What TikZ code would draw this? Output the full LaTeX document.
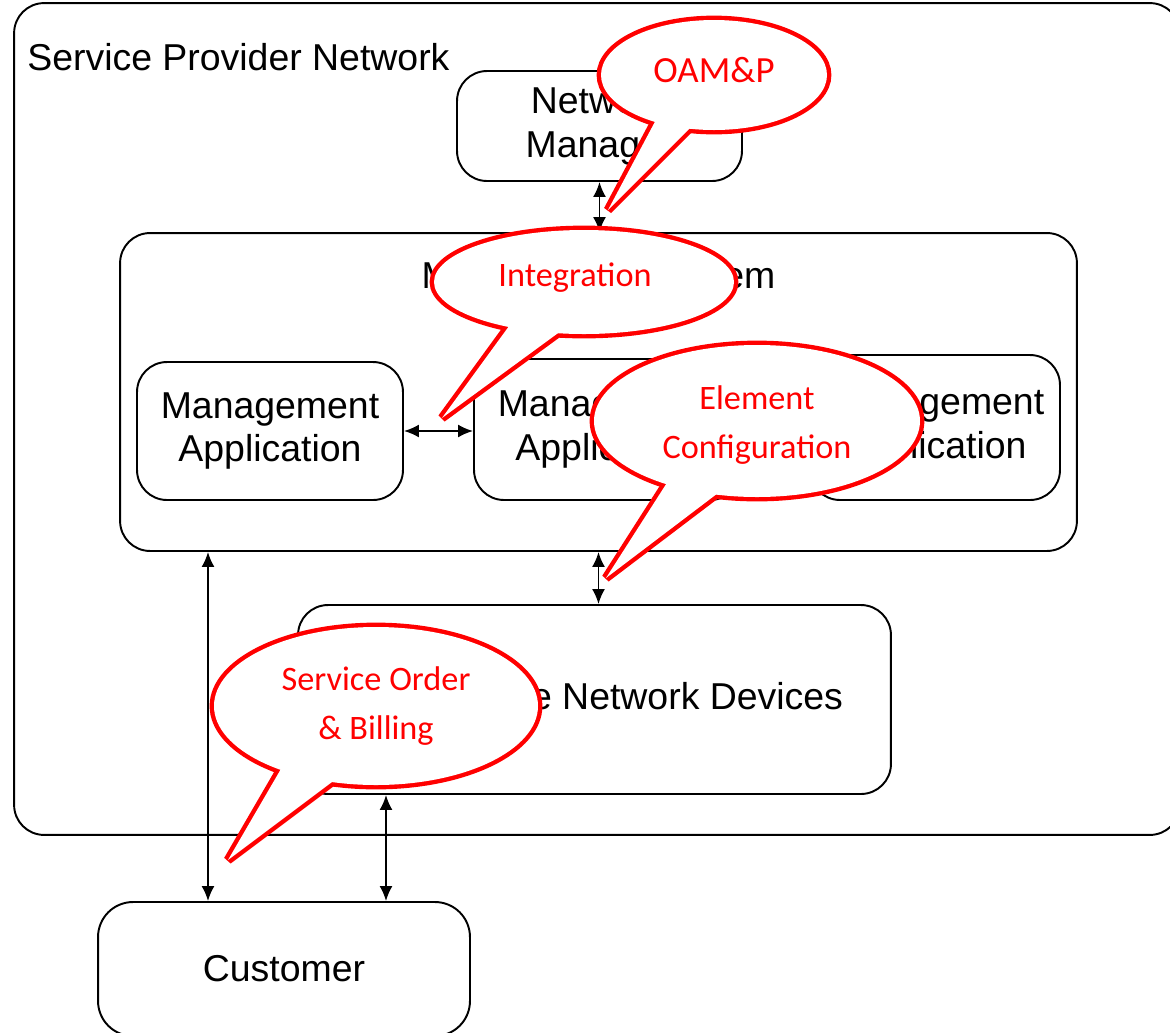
\documentclass[tikz,border=0pt]{standalone}
\usepackage{fontspec}
\setmainfont{Liberation Sans}
\newfontfamily\calloutfont{Carlito}
\usetikzlibrary{arrows.meta}

\tikzset{
  box/.style={draw, fill=white, line width=1.1pt, rounded corners=0.6cm, align=center,
    font=\fontsize{21.3}{25}\selectfont},
  bubble edge/.style={draw=red, line width=5pt, miter limit=4},
  callout text/.style={text=red, align=center, font=\calloutfont\fontsize{19.5}{27.5}\selectfont},
  link/.style={<->, line width=1.1pt},
  >={Latex[length=3mm,width=2.6mm]}
}

% speech bubble: centre, x radius, y radius, tail base, tail tip, tail base
\newcommand{\speechbubble}[6]{%
  \path[bubble edge] #1 ellipse [x radius=#2, y radius=#3];
  \path[bubble edge] #4 -- #5 -- #6 -- cycle;
  \fill[white] #1 ellipse [x radius=#2, y radius=#3];
  \fill[white] #4 -- #5 -- #6 -- cycle;
}

\begin{document}
\begin{tikzpicture}[x=0.02cm, y=-0.02cm]
  \useasboundingbox (0,0) rectangle (1170,1032);

  % Provider network
  \node[box, minimum width=23.32cm, minimum height=16.64cm] (spn) at (597,419) {};
  \node[anchor=west, inner sep=0, font=\fontsize{21.3}{25}\selectfont] (spntitle) at (27,57) {Service Provider Network};

  % Network management
  \node[box, minimum width=5.7cm, minimum height=2.2cm] (nm) at (599.5,126) {Network\\Manager};

  % Management system
  \node[box, minimum width=19.14cm, minimum height=6.36cm] (ms) at (598.5,392) {};
  \node[font=\fontsize{21.3}{25}\selectfont] (mstitle) at (598.5,279) {Management System};
  \node[box, minimum width=5.32cm, minimum height=2.76cm] (app1) at (270,431) {Management\\Application};
  \node[box, minimum width=5.32cm, minimum height=2.82cm] (app2) at (607,429.5) {Management\\Application};
  \node[box, minimum width=5cm, minimum height=2.9cm] (app3) at (935,427.5) {Management\\Application};

  % Devices
  \node[box, minimum width=11.86cm, minimum height=3.78cm] (nd) at (594.5,699.5) {Manageable Network Devices};

  % Customer
  \node[box, rounded corners=0.7cm, minimum width=7.44cm, minimum height=2.68cm] (cust) at (284,969) {Customer};

  % Links
  \coordinate (billing) at (208,0);
  \coordinate (access) at (386,0);
  \draw[link] (nm.south) -- (nm.south |- ms.north);
  \draw[link] (app1.east) -- (app1.east -| app2.west);
  \draw[link] (ms.south) -- (ms.south |- nd.north);
  \draw[link] (billing |- ms.south) -- (billing |- cust.north);
  \draw[link] (access |- nd.south) -- (access |- cust.north);

  % Callouts
  \speechbubble{(714,75)}{113}{55}{(658,116)}{(608,210)}{(697,121)}
  \node[callout text, font=\calloutfont\fontsize{21}{27}\selectfont] (oamp) at (714,70) {OAM\&P};

  \speechbubble{(584,282)}{150}{52}{(512,322)}{(442,418)}{(565,328)}
  \node[callout text] (integ) at (575,278) {Integration};

  \speechbubble{(757,421)}{163}{76}{(670,478)}{(606,578)}{(722,490)}
  \node[callout text] (elem) at (757,425) {Element\\Configuration};

  \speechbubble{(376,706)}{162}{79}{(285,762)}{(228,860)}{(340,776)}
  \node[callout text] (order) at (376,706) {Service Order\\\& Billing};
\end{tikzpicture}
\end{document}
